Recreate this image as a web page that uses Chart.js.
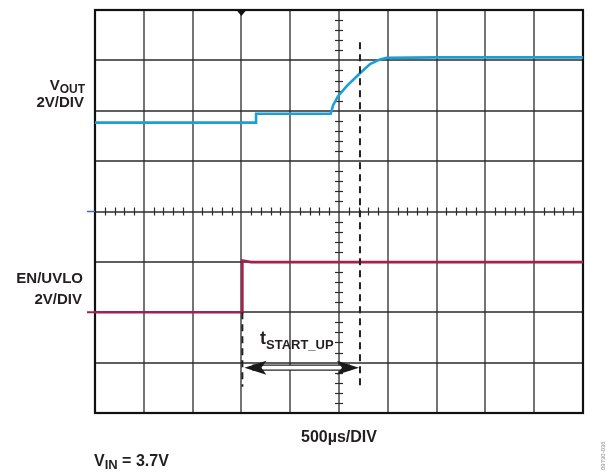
<!DOCTYPE html>
<html><head><meta charset="utf-8">
<script src="https://cdn.jsdelivr.net/npm/chart.js@4/dist/chart.umd.min.js"></script>
<style>
html,body{margin:0;padding:0;background:#fff;}
#wrap{position:relative;width:606px;height:473px;overflow:hidden;}
canvas{position:absolute;left:0;top:0;}
.lbl{position:absolute;font-family:"Liberation Sans",Arial,sans-serif;font-weight:bold;color:#231f20;line-height:15px;font-size:15px;white-space:nowrap;}
.sub{font-size:12px;position:relative;top:3px;}
</style></head>
<body><div id="wrap">
<canvas id="c" width="606" height="473"></canvas>
<div class="lbl" style="right:521px;top:77px;">V<span class="sub">OUT</span></div>
<div class="lbl" style="right:522px;top:94px;">2V/DIV</div>
<div class="lbl" style="right:523px;top:270px;">EN/UVLO</div>
<div class="lbl" style="right:524px;top:291px;">2V/DIV</div>
<div class="lbl" style="left:260px;top:331px;font-size:18px;">t<span class="sub" style="font-size:13px;top:5px;">START_UP</span></div>
<div class="lbl" style="left:339px;top:429px;transform:translateX(-50%);font-size:16px;">500µs/DIV</div>
<div class="lbl" style="left:94px;top:453px;font-size:16px;">V<span class="sub" style="font-size:13px;">IN</span> = 3.7V</div>
<div class="lbl" style="left:596px;top:470px;font-size:6px;font-weight:normal;color:#888;transform:rotate(-90deg);transform-origin:left top;">09730-036</div>
</div>
<script>
// Time axis in microseconds (500 µs/div), vertical axis in divisions
const xTicks = [-2500,-2000,-1500,-1000,-500,0,500,1000,1500,2000,2500];
const yTicks = [-4,-3,-2,-1,0,1,2,3,4];
const voltsPerDiv = 2;
const voutOffsetDiv = 0;
const enOffsetDiv = -2;

// V_OUT trace (volts)
const voutTime  = [-2500, -850, -850, -85, -60, -10, 79, 215, 318, 420, 489, 1000, 2500];
const voutVolts = [3.53, 3.53, 3.88, 3.88, 4.22, 4.58, 4.98, 5.49, 5.85, 6.04, 6.10, 6.12, 6.12];

// EN/UVLO trace (volts)
const enTime  = [-2500, -990, -990, -900, 2500];
const enVolts = [0, 0, 2.05, 1.99, 1.99];

// start-up interval markers (µs)
const tStartUp = [-990, 215];
const triggerTime = -1000;

const toPts = (t, v, off) => t.map((x, i) => ({x: x, y: v[i] / voltsPerDiv + off}));

const scopePlugin = {
  id: 'scope',
  beforeDatasetsDraw(chart) {
    const ctx = chart.ctx, xs = chart.scales.x, ys = chart.scales.y;
    const a = chart.chartArea;
    ctx.save();
    ctx.strokeStyle = '#2a2a2a';
    ctx.lineWidth = 1.3;
    xTicks.forEach(t => {
      const px = Math.round(xs.getPixelForValue(t));
      ctx.beginPath(); ctx.moveTo(px, a.top); ctx.lineTo(px, a.bottom); ctx.stroke();
    });
    yTicks.forEach(v => {
      const py = Math.round(ys.getPixelForValue(v));
      ctx.beginPath(); ctx.moveTo(a.left, py); ctx.lineTo(a.right, py); ctx.stroke();
    });
    // minor ticks on center axes
    ctx.lineWidth = 1.2;
    const cx = xs.getPixelForValue(0), cy = ys.getPixelForValue(0);
    for (let t = -2500; t <= 2500; t += 100) {
      if (t % 500 === 0) continue;
      const px = Math.round(xs.getPixelForValue(t)) + 0.5;
      ctx.beginPath(); ctx.moveTo(px, cy - 4); ctx.lineTo(px, cy + 4); ctx.stroke();
    }
    for (let k = -20; k <= 20; k++) {
      if (k % 5 === 0) continue;
      const py = Math.round(ys.getPixelForValue(k / 5)) + 0.5;
      ctx.beginPath(); ctx.moveTo(cx - 4, py); ctx.lineTo(cx + 4, py); ctx.stroke();
    }
    // outer border
    ctx.lineWidth = 2.2;
    ctx.strokeStyle = '#111';
    ctx.strokeRect(a.left, a.top, a.right - a.left, a.bottom - a.top);
    ctx.restore();
  },
  afterDatasetsDraw(chart) {
    const ctx = chart.ctx, xs = chart.scales.x, ys = chart.scales.y;
    const a = chart.chartArea;
    ctx.save();
    // channel ground markers at left edge
    ctx.lineWidth = 1.5;
    ctx.strokeStyle = '#3a6fc4';
    let py = ys.getPixelForValue(voutOffsetDiv);
    ctx.beginPath(); ctx.moveTo(a.left - 8, py); ctx.lineTo(a.left, py); ctx.stroke();
    ctx.strokeStyle = '#a3214f';
    ctx.lineWidth = 2;
    py = ys.getPixelForValue(enOffsetDiv);
    ctx.beginPath(); ctx.moveTo(a.left - 8, py); ctx.lineTo(a.left, py); ctx.stroke();
    // trigger marker
    const tx = xs.getPixelForValue(triggerTime);
    ctx.fillStyle = '#111';
    ctx.beginPath(); ctx.moveTo(tx - 5, a.top); ctx.lineTo(tx + 5, a.top); ctx.lineTo(tx, a.top + 6); ctx.closePath(); ctx.fill();
    // dashed cursor lines
    ctx.strokeStyle = '#222';
    ctx.lineWidth = 2;
    ctx.setLineDash([7, 5]);
    const x1 = xs.getPixelForValue(tStartUp[0]), x2 = xs.getPixelForValue(tStartUp[1]);
    ctx.beginPath(); ctx.moveTo(x1, ys.getPixelForValue(-2)); ctx.lineTo(x1, ys.getPixelForValue(-3.48)); ctx.stroke();
    ctx.beginPath(); ctx.moveTo(x2, ys.getPixelForValue(3.36)); ctx.lineTo(x2, ys.getPixelForValue(-3.48)); ctx.stroke();
    ctx.setLineDash([]);
    // double arrow
    const ay = ys.getPixelForValue(-3.1);
    const hl = 22, hh = 7;
    ctx.fillStyle = '#fff';
    ctx.fillRect(x1 + 10, ay - 2.5, x2 - x1 - 20, 5);
    ctx.strokeStyle = '#222';
    ctx.lineWidth = 1.2;
    ctx.beginPath(); ctx.moveTo(x1 + 10, ay - 2.5); ctx.lineTo(x2 - 10, ay - 2.5); ctx.stroke();
    ctx.beginPath(); ctx.moveTo(x1 + 10, ay + 2.5); ctx.lineTo(x2 - 10, ay + 2.5); ctx.stroke();
    ctx.fillStyle = '#1a1a1a';
    ctx.beginPath(); ctx.moveTo(x1 + 2, ay); ctx.lineTo(x1 + 2 + hl, ay - hh); ctx.lineTo(x1 + 2 + hl - 5, ay); ctx.lineTo(x1 + 2 + hl, ay + hh); ctx.closePath(); ctx.fill();
    ctx.beginPath(); ctx.moveTo(x2 - 1, ay); ctx.lineTo(x2 - 1 - hl, ay - hh); ctx.lineTo(x2 - 1 - hl + 5, ay); ctx.lineTo(x2 - 1 - hl, ay + hh); ctx.closePath(); ctx.fill();
    ctx.restore();
  }
};

new Chart(document.getElementById('c'), {
  type: 'line',
  data: {
    datasets: [
      {label: 'VOUT', data: toPts(voutTime, voutVolts, voutOffsetDiv), borderColor: '#1a9fd8', borderWidth: 2.6, pointRadius: 0, tension: 0},
      {label: 'EN/UVLO', data: toPts(enTime, enVolts, enOffsetDiv), borderColor: '#a3214f', borderWidth: 2.6, pointRadius: 0, tension: 0}
    ]
  },
  options: {
    responsive: false,
    animation: false,
    events: [],
    layout: {padding: {left: 95, right: 23, top: 10, bottom: 60}},
    plugins: {legend: {display: false}, tooltip: {enabled: false}},
    scales: {
      x: {type: 'linear', display: false, min: -2500, max: 2500},
      y: {type: 'linear', display: false, min: -4, max: 4}
    }
  },
  plugins: [scopePlugin]
});
</script>
</body></html>
